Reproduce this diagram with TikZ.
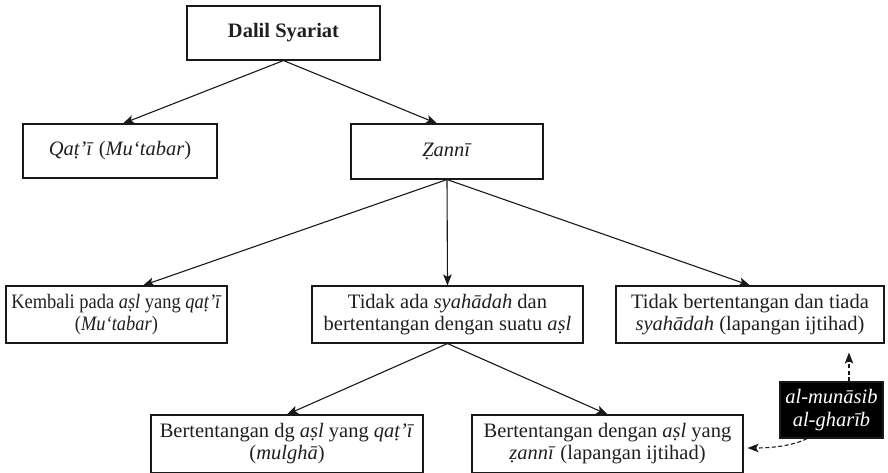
\documentclass[tikz,border=0pt]{standalone}
\usepackage{fontspec}
\setmainfont{Liberation Serif}
\newfontfamily\condfont[FakeStretch=0.9]{Liberation Serif}
\usetikzlibrary{arrows.meta}
\begin{document}
\begin{tikzpicture}[x=1pt,y=-1pt,
  box/.style={draw=black!90, line width=1.1pt, inner sep=0pt, align=center,
    text=black!88, font=\fontsize{20.5}{22.5}\selectfont},
  condbox/.style={box, font=\condfont\fontsize{20.5}{22.5}\selectfont},
  arr/.style={draw=black!90, line width=1.1pt, -{Stealth[length=11pt,width=8.5pt,inset=2.5pt]}},
  darr/.style={arr, dash pattern=on 4pt off 2.5pt},
]
\useasboundingbox (0,0) rectangle (888,473);
\node[box, minimum width=193pt, minimum height=54pt] (dalil) at (283.5,33) {\textbf{Dalil Syariat}};
\node[box, minimum width=194pt, minimum height=54pt] (qati) at (120,151) {\textit{Qaṭ’ī} (\textit{Mu‘tabar})};
\node[box, minimum width=192pt, minimum height=55pt] (zanni) at (447,151.5) {\textit{Ẓannī}};
\node[condbox, minimum width=221pt, minimum height=57pt] (kembali) at (116.5,314.5) {Kembali pada \textit{aṣl} yang \textit{qaṭ’ī}\\(\textit{Mu‘tabar})};
\node[box, minimum width=271pt, minimum height=57pt] (tidakada) at (447.5,314.5) {Tidak ada \textit{syahādah} dan\\bertentangan dengan suatu \textit{aṣl}};
\node[box, minimum width=268pt, minimum height=57pt] (tidakbert) at (750,314.5) {Tidak bertentangan dan tiada\\\textit{syahādah} (lapangan ijtihad)};
\node[box, minimum width=272pt, minimum height=57.5pt] (mulgha) at (287,443.75) {Bertentangan dg \textit{aṣl} yang \textit{qaṭ’ī}\\(\textit{mulghā})};
\node[box, minimum width=271pt, minimum height=57.5pt] (zannilap) at (607.5,443.75) {Bertentangan dengan \textit{aṣl} yang\\\textit{ẓannī} (lapangan ijtihad)};
\node[box, fill=black, text=white, minimum width=103pt, minimum height=56pt] (black) at (831.5,410) {\textit{al-munāsib}\\\textit{al-gharīb}};

\draw[arr] (dalil.south) -- ([xshift=3pt]qati.north);
\draw[arr] (dalil.south) -- ([xshift=-10pt]zanni.north);
\draw[arr] (zanni.south) -- ([xshift=26.5pt]kembali.north);
\draw[arr] (zanni.south) -- (tidakada.north);
\draw[arr] (zanni.south) -- (tidakbert.north);
\draw[arr] (tidakada.south) -- (mulgha.north);
\draw[arr] (tidakada.south) -- (zannilap.north);
\draw[darr] ([xshift=17.5pt]black.north) -- ([xshift=99pt,yshift=-9pt]tidakbert.south);
\draw[darr] ([xshift=-24.5pt]black.south) .. controls +(-15,8) and +(20,0) .. ([xshift=4pt,yshift=-4.25pt]zannilap.east);
\end{tikzpicture}
\end{document}
